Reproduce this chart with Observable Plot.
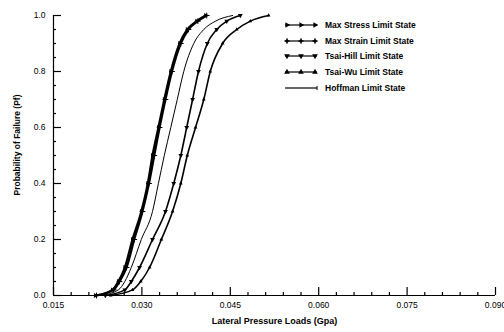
<!DOCTYPE html>
<html>
<head>
<meta charset="utf-8">
<script src="https://cdn.jsdelivr.net/npm/d3@7"></script>
<script src="https://cdn.jsdelivr.net/npm/@observablehq/plot@0.6"></script>
<style>
  body { margin: 0; background: #fff; }
  #chart { position: relative; width: 504px; height: 332px; font-family: "Liberation Sans", Arial, sans-serif; }
  #legend { position: absolute; left: 284px; top: 17px; font-size: 8.5px; font-weight: bold; color: #000; }
  #legend .row { display: flex; align-items: center; height: 15.8px; white-space: nowrap; }
  #legend svg { margin-right: 7px; }
  #ytitle { position: absolute; left: 17px; top: 145px; transform: translate(-50%, -50%) rotate(-90deg);
    font-size: 8.5px; font-weight: bold; white-space: nowrap; color: #000; }
</style>
</head>
<body>
<div id="chart"><div id="legend"></div><div id="ytitle"></div></div>
<script>
// Cumulative probability of failure levels shared by every limit-state curve
const probability = [0, 0.02, 0.05, 0.1, 0.2, 0.3, 0.4, 0.5, 0.6, 0.7, 0.8, 0.9, 0.95, 0.98, 1.0];

// Lateral pressure load (GPa) at which each probability level is reached
const maxStress = [0.0221, 0.0250, 0.0260, 0.0271, 0.0284, 0.0299, 0.0310, 0.0318, 0.0328, 0.0338, 0.0349, 0.0364, 0.0377, 0.0393, 0.0408];
const maxStrain = [0.0223, 0.0252, 0.0262, 0.0274, 0.0287, 0.0301, 0.0312, 0.0321, 0.0330, 0.0340, 0.0351, 0.0366, 0.0379, 0.0395, 0.0410];
const tsaiHill  = [0.0238, 0.0271, 0.0282, 0.0296, 0.0318, 0.0340, 0.0354, 0.0366, 0.0376, 0.0386, 0.0396, 0.0411, 0.0427, 0.0444, 0.0467];
const tsaiWu    = [0.0247, 0.0284, 0.0298, 0.0313, 0.0333, 0.0352, 0.0366, 0.0377, 0.0391, 0.0405, 0.0416, 0.0437, 0.0461, 0.0484, 0.0515];
const hoffman   = [0.0230, 0.0260, 0.0271, 0.0282, 0.0299, 0.0318, 0.0328, 0.0338, 0.0349, 0.0360, 0.0371, 0.0388, 0.0405, 0.0425, 0.0454];

const seriesNames = ["Max Stress Limit State", "Max Strain Limit State", "Tsai-Hill Limit State", "Tsai-Wu Limit State", "Hoffman Limit State"];

// Axis ticks
const xTicks = [0.015, 0.03, 0.045, 0.06, 0.075, 0.09];
const xTickLabels = ["0.015", "0.030", "0.045", "0.060", "0.075", "0.090"];
const xMinorTicks = d3.range(0, 26).map(i => +(0.015 + i * 0.003).toFixed(3)).filter(v => !xTicks.some(t => Math.abs(t - v) < 1e-9));
const yTicks = [0, 0.2, 0.4, 0.6, 0.8, 1.0];
const yTickLabels = ["0.0", "0.2", "0.4", "0.6", "0.8", "1.0"];
const yMinorTicks = d3.range(0, 21).map(i => +(i * 0.05).toFixed(2)).filter(v => !yTicks.some(t => Math.abs(t - v) < 1e-9));

const xLabel = "Lateral Pressure Loads (Gpa)";
const yLabel = "Probability of Failure (Pf)";

// Plot geometry
const W = 504, H = 332;
const M = { left: 53, right: 9, top: 15, bottom: 37 };
const xDomain = [0.015, 0.09], yDomain = [0, 1];
const frameW = W - M.left - M.right, frameH = H - M.top - M.bottom;
// pixel lengths expressed in data units, for the inward tick marks
const xPerPx = (xDomain[1] - xDomain[0]) / frameW, yPerPx = (yDomain[1] - yDomain[0]) / frameH;

// Drawing style for each series
const styles = [
  { values: maxStress, symbol: "triangle", rotate: 90, r: 1.8, width: 2.2 },
  { values: maxStrain, symbol: "plus", rotate: 0, r: 2, width: 2.2 },
  { values: tsaiHill, symbol: "triangle", rotate: 180, r: 1.8, width: 1.6 },
  { values: tsaiWu, symbol: "triangle", rotate: 0, r: 1.4, width: 1.6 },
  { values: hoffman, symbol: null, rotate: 0, r: 0, width: 1 }
];

const rows = [];
styles.forEach((s, k) => {
  s.values.forEach((x, i) => rows.push({ series: seriesNames[k], x, p: probability[i], k }));
});

// Inward ticks along the bottom and left edges of the frame
const xTickMarks = (ticks, len) => Plot.ruleX(ticks, { x: d => d, y1: yDomain[0], y2: yDomain[0] + len * yPerPx, stroke: "#000", strokeWidth: 1.2 });
const yTickMarks = (ticks, len) => Plot.ruleY(ticks, { y: d => d, x1: xDomain[0], x2: xDomain[0] + len * xPerPx, stroke: "#000", strokeWidth: 1.2 });

const marks = [
  Plot.ruleY([0], { stroke: "#000", strokeWidth: 1.2 }),
  Plot.ruleX([0.015], { stroke: "#000", strokeWidth: 1.2 }),
  xTickMarks(xMinorTicks, 3),
  xTickMarks(xTicks, 8),
  yTickMarks(yMinorTicks, 3),
  yTickMarks(yTicks, 8),
  Plot.axisX({ ticks: xTicks, tickSize: 0, tickPadding: 6, tickFormat: (d, i) => xTickLabels[i], fontSize: 8.5,
    label: xLabel, labelAnchor: "center", labelArrow: "none", labelOffset: 28 }),
  Plot.axisY({ ticks: yTicks, tickSize: 0, tickPadding: 8, tickFormat: (d, i) => yTickLabels[i], fontSize: 8.5, label: null })
];

styles.forEach((s, k) => {
  const data = rows.filter(d => d.k === k);
  marks.push(Plot.line(data, { x: "x", y: "p", stroke: "#000", strokeWidth: s.width, curve: "monotone-x" }));
  if (s.symbol) {
    marks.push(Plot.dot(data, { x: "x", y: "p", symbol: () => s.symbol, rotate: s.rotate, r: s.r,
      fill: "#000", stroke: s.symbol === "plus" ? "#000" : "none", strokeWidth: 1 }));
  }
});

const chart = Plot.plot({
  width: W,
  height: H,
  marginLeft: M.left,
  marginRight: M.right,
  marginTop: M.top,
  marginBottom: M.bottom,
  x: { domain: xDomain },
  y: { domain: yDomain },
  symbol: { type: "identity" },
  style: { fontFamily: "Liberation Sans, Arial, sans-serif", fontSize: "8.5px", color: "#000", background: "#fff", overflow: "visible" },
  marks
});
chart.querySelectorAll("g[aria-label='x-axis label'] text").forEach(t => { t.style.fontWeight = "bold"; t.style.fontSize = "9px"; });
document.getElementById("chart").prepend(chart);
document.getElementById("ytitle").textContent = yLabel;

// Legend in the upper right of the plotting area
const legend = d3.select("#legend");
const symbolGen = name => d3.symbol(name === "plus" ? d3.symbolCross : d3.symbolTriangle, 14)();
styles.forEach((s, k) => {
  const row = legend.append("div").attr("class", "row");
  const svg = row.append("svg").attr("width", 34).attr("height", 8);
  svg.append("line").attr("x1", 1).attr("x2", 33).attr("y1", 4).attr("y2", 4)
    .attr("stroke", "#000").attr("stroke-width", 1.2);
  if (s.symbol) {
    [3, 17, 31].forEach(cx => {
      svg.append("path").attr("d", symbolGen(s.symbol))
        .attr("transform", `translate(${cx},4) rotate(${s.rotate})`).attr("fill", "#000");
    });
  } else {
    svg.append("line").attr("x1", 33).attr("x2", 33).attr("y1", 2).attr("y2", 6).attr("stroke", "#000");
  }
  row.append("span").text(seriesNames[k]);
});
</script>
</body>
</html>
